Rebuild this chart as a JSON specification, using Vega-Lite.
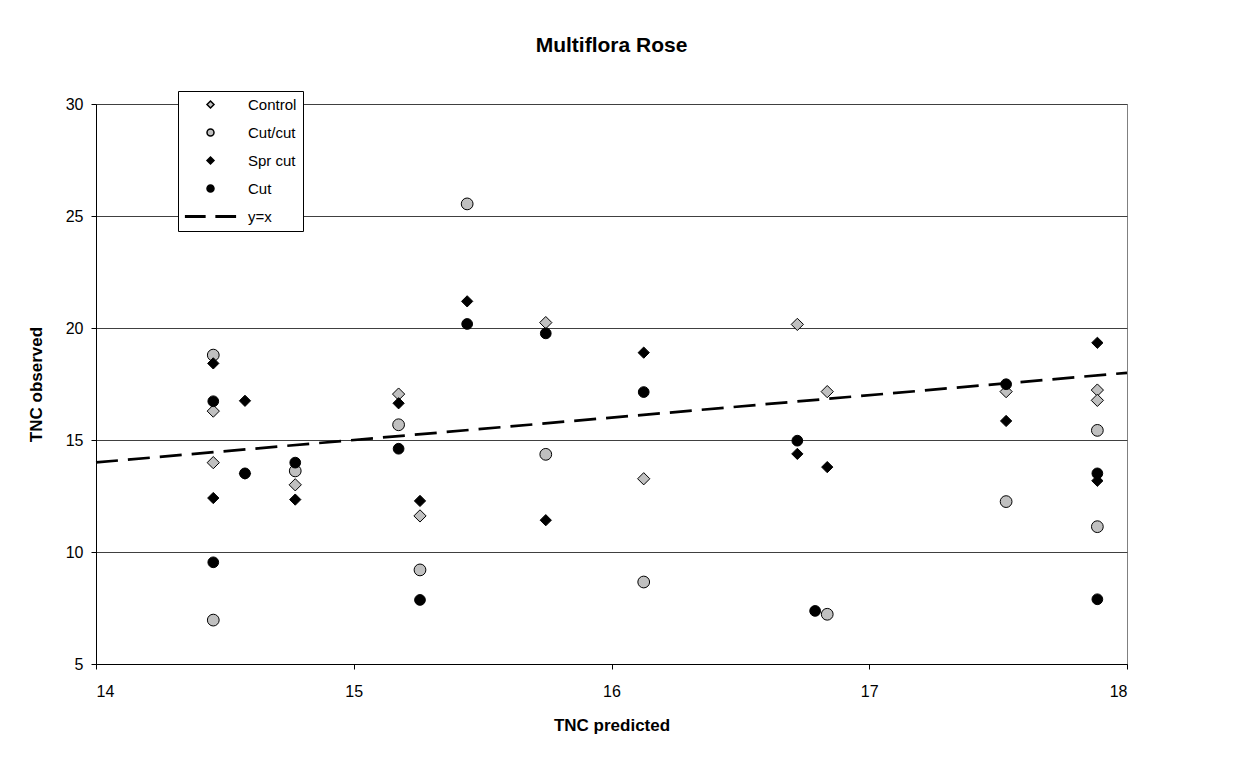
{
  "$schema": "https://vega.github.io/schema/vega-lite/v6.json",
  "autosize": {"type": "none"},
  "width": 1031,
  "height": 560,
  "padding": {"left": 96, "top": 104, "right": 111, "bottom": 95},
  "background": "white",
  "title": {
    "text": "Multiflora Rose",
    "font": "Liberation Sans",
    "fontSize": 21,
    "fontWeight": "bold",
    "color": "black",
    "anchor": "middle",
    "offset": 35
  },
  "config": {
    "view": {"stroke": "#808080", "strokeWidth": 1},
    "axis": {
      "labelFont": "Liberation Sans",
      "labelFontSize": 16,
      "labelColor": "black",
      "titleFont": "Liberation Sans",
      "titleFontSize": 17,
      "titleFontWeight": "bold",
      "titleColor": "black",
      "domainColor": "black",
      "tickColor": "black",
      "tickSize": 5,
      "gridColor": "#404040",
      "gridWidth": 1
    }
  },
  "datasets": {
    "pts": [
      {"series": "Control", "x": 14.455, "y": 16.29},
      {"series": "Control", "x": 14.455, "y": 13.99},
      {"series": "Control", "x": 14.773, "y": 13.0},
      {"series": "Control", "x": 15.174, "y": 17.05},
      {"series": "Control", "x": 15.257, "y": 11.61},
      {"series": "Control", "x": 15.745, "y": 20.24},
      {"series": "Control", "x": 16.125, "y": 13.27},
      {"series": "Control", "x": 16.721, "y": 20.16},
      {"series": "Control", "x": 16.837, "y": 17.16},
      {"series": "Control", "x": 17.531, "y": 17.16},
      {"series": "Control", "x": 17.885, "y": 17.23},
      {"series": "Control", "x": 17.885, "y": 16.77},
      {"series": "Cut/cut", "x": 14.455, "y": 18.79},
      {"series": "Cut/cut", "x": 14.455, "y": 6.96},
      {"series": "Cut/cut", "x": 14.773, "y": 13.62},
      {"series": "Cut/cut", "x": 15.174, "y": 15.68},
      {"series": "Cut/cut", "x": 15.257, "y": 9.2},
      {"series": "Cut/cut", "x": 15.44, "y": 25.54},
      {"series": "Cut/cut", "x": 15.745, "y": 14.36},
      {"series": "Cut/cut", "x": 16.125, "y": 8.66},
      {"series": "Cut/cut", "x": 16.837, "y": 7.22},
      {"series": "Cut/cut", "x": 17.531, "y": 12.25},
      {"series": "Cut/cut", "x": 17.885, "y": 15.43},
      {"series": "Cut/cut", "x": 17.885, "y": 11.13},
      {"series": "Spr cut", "x": 14.455, "y": 18.42},
      {"series": "Spr cut", "x": 14.455, "y": 12.41},
      {"series": "Spr cut", "x": 14.578, "y": 16.75},
      {"series": "Spr cut", "x": 14.578, "y": 13.5},
      {"series": "Spr cut", "x": 14.773, "y": 12.34},
      {"series": "Spr cut", "x": 15.174, "y": 16.64},
      {"series": "Spr cut", "x": 15.257, "y": 12.28},
      {"series": "Spr cut", "x": 15.44, "y": 21.19},
      {"series": "Spr cut", "x": 15.745, "y": 11.42},
      {"series": "Spr cut", "x": 16.125, "y": 18.9},
      {"series": "Spr cut", "x": 16.721, "y": 14.38},
      {"series": "Spr cut", "x": 16.837, "y": 13.79},
      {"series": "Spr cut", "x": 17.531, "y": 15.85},
      {"series": "Spr cut", "x": 17.885, "y": 19.34},
      {"series": "Spr cut", "x": 17.885, "y": 13.18},
      {"series": "Cut", "x": 14.455, "y": 16.73},
      {"series": "Cut", "x": 14.455, "y": 9.54},
      {"series": "Cut", "x": 14.578, "y": 13.51},
      {"series": "Cut", "x": 14.773, "y": 13.99},
      {"series": "Cut", "x": 15.174, "y": 14.61},
      {"series": "Cut", "x": 15.257, "y": 7.86},
      {"series": "Cut", "x": 15.44, "y": 20.18},
      {"series": "Cut", "x": 15.745, "y": 19.76},
      {"series": "Cut", "x": 16.125, "y": 17.14},
      {"series": "Cut", "x": 16.721, "y": 14.97},
      {"series": "Cut", "x": 16.79, "y": 7.37},
      {"series": "Cut", "x": 17.531, "y": 17.49},
      {"series": "Cut", "x": 17.885, "y": 13.51},
      {"series": "Cut", "x": 17.885, "y": 7.89}
    ],
    "line": [
      {"series": "y=x", "x": 14, "y": 14},
      {"series": "y=x", "x": 18, "y": 18}
    ]
  },
  "layer": [
    {
      "data": {"name": "line"},
      "mark": {"type": "line", "color": "black", "strokeWidth": 2.7, "strokeDash": [22, 10]},
      "encoding": {
        "x": {"field": "x", "type": "quantitative"},
        "y": {"field": "y", "type": "quantitative"}
      }
    },
    {
      "data": {"name": "pts"},
      "mark": {"type": "point", "filled": true, "stroke": "black", "strokeWidth": 1, "opacity": 1},
      "encoding": {
        "x": {
          "field": "x", "type": "quantitative",
          "scale": {"domain": [14, 18], "nice": false, "zero": false},
          "axis": {"values": [14, 15, 16, 17, 18], "format": "d", "grid": false, "title": "TNC predicted", "labelPadding": 14, "titlePadding": 18}
        },
        "y": {
          "field": "y", "type": "quantitative",
          "scale": {"domain": [5, 30], "nice": false, "zero": false},
          "axis": {"values": [5, 10, 15, 20, 25, 30], "format": "d", "grid": true, "title": "TNC observed", "labelPadding": 8, "titlePadding": 20}
        },
        "shape": {
          "field": "series", "type": "nominal",
          "scale": {
            "domain": ["Control", "Cut/cut", "Spr cut", "Cut", "y=x"],
            "range": ["diamond", "circle", "diamond", "circle", "M-7.1,-0.2H-1.6V0.2H-7.1Z M1.6,-0.2H7.1V0.2H1.6Z"]
          },
          "legend": {
            "orient": "none", "legendX": 82, "legendY": -13, "title": null,
            "fillColor": "white", "strokeColor": "black", "padding": 6,
            "rowPadding": 12, "symbolSize": 49,
            "labelFont": "Liberation Sans", "labelFontSize": 15, "labelColor": "black",
            "labelOffset": 30, "symbolOffset": 19,
            "encode": {"symbols": {"update": {"stroke": {"value": "black"}, "strokeWidth": {"value": 1}, "opacity": {"value": 1}}}}
          }
        },
        "fill": {
          "field": "series", "type": "nominal",
          "scale": {
            "domain": ["Control", "Cut/cut", "Spr cut", "Cut", "y=x"],
            "range": ["#c0c0c0", "#c0c0c0", "#000000", "#000000", "#000000"]
          },
          "legend": {
            "orient": "none", "legendX": 82, "legendY": -13, "title": null,
            "fillColor": "white", "strokeColor": "black", "padding": 6,
            "rowPadding": 12, "symbolSize": 49,
            "labelFont": "Liberation Sans", "labelFontSize": 15, "labelColor": "black",
            "labelOffset": 30, "symbolOffset": 19,
            "encode": {"symbols": {"update": {"stroke": {"value": "black"}, "strokeWidth": {"value": 1}, "opacity": {"value": 1}}}}
          }
        },
        "size": {
          "field": "series", "type": "nominal",
          "scale": {"domain": ["Control", "Cut/cut", "Spr cut", "Cut"], "range": [150, 115, 150, 115]},
          "legend": null
        }
      }
    }
  ]
}
